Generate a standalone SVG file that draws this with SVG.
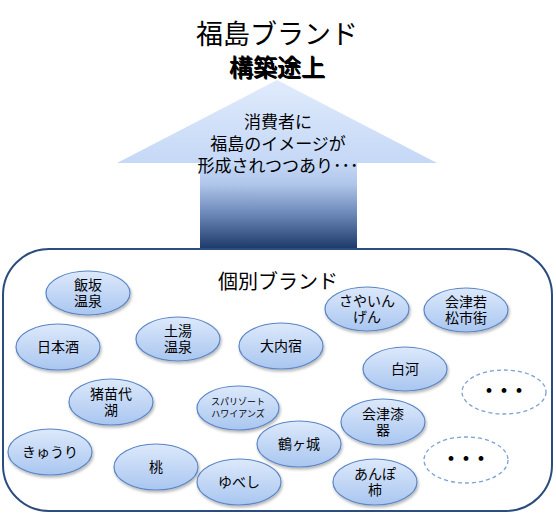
<svg xmlns="http://www.w3.org/2000/svg" width="556" height="514" viewBox="0 0 556 514">
<defs>
<linearGradient id="arrowGrad" x1="0" y1="80" x2="0" y2="248" gradientUnits="userSpaceOnUse">
<stop offset="0" stop-color="#e0ebfc"/>
<stop offset="0.49" stop-color="#c5d8f6"/>
<stop offset="0.62" stop-color="#b0c6ea"/>
<stop offset="0.8" stop-color="#6a87b8"/>
<stop offset="1" stop-color="#1f3b6b"/>
</linearGradient>
<linearGradient id="ellGrad" x1="0" y1="0" x2="0" y2="1">
<stop offset="0" stop-color="#dde9fb"/>
<stop offset="1" stop-color="#a9c6f0"/>
</linearGradient>
<filter id="shadow" x="-20%" y="-20%" width="150%" height="160%">
<feGaussianBlur in="SourceAlpha" stdDeviation="1.5"/>
<feOffset dx="1" dy="2" result="b"/>
<feComponentTransfer><feFuncA type="linear" slope="0.3"/></feComponentTransfer>
<feMerge><feMergeNode/><feMergeNode in="SourceGraphic"/></feMerge>
</filter>
<style>
.ell{fill:url(#ellGrad);stroke:#5a86c6;stroke-width:1.2;filter:url(#shadow)}
.dash{fill:#ffffff;stroke:#7ea0d2;stroke-width:1.3;stroke-dasharray:4 3}
.t{font-family:"Liberation Sans","Noto Sans CJK JP",sans-serif;font-size:14px;fill:#000;text-anchor:middle}
.s{font-size:9px}
.dots{font-family:"Liberation Sans","Noto Sans CJK JP",sans-serif;font-size:17px;font-weight:900;fill:#000;text-anchor:middle;letter-spacing:-2px}
.big{font-family:"Liberation Sans","Noto Sans CJK JP",sans-serif;fill:#000;text-anchor:middle}
</style>
</defs>
<rect x="0" y="0" width="556" height="514" fill="#ffffff"/>

<g id="title">
<text class="big" x="277" y="44" font-size="27">福島ブランド</text>
<text class="big" x="278" y="77" font-size="24" font-weight="500" fill="#c07020">構築途上</text>
<text class="big" x="277" y="76" font-size="24" font-weight="500">構築途上</text>
</g>

<g id="arrow">
<path d="M277,80 L437,163 L357,163 L357,249 L200,249 L200,163 L117,163 Z" fill="url(#arrowGrad)"/>
<text class="big" font-size="17" x="278" y="128">消費者に</text>
<text class="big" font-size="17" x="278" y="150">福島のイメージが</text>
<text class="big" font-size="17" x="278" y="172">形成されつつあり･･･</text>
</g>

<g id="container">
<rect x="3" y="249" width="549" height="262" rx="46" ry="46" fill="#ffffff" stroke="#2b4c7c" stroke-width="2"/>
<text class="big" x="278" y="289" font-size="20">個別ブランド</text>
</g>

<g id="connectors"></g>

<g id="iizaka"><ellipse class="ell" cx="88" cy="293" rx="42" ry="22"/><text class="t" x="88" y="290">飯坂</text><text class="t" x="88" y="306">温泉</text></g>
<g id="nihonshu"><ellipse class="ell" cx="58" cy="347" rx="42" ry="23"/><text class="t" x="58" y="352">日本酒</text></g>
<g id="tsuchiyu"><ellipse class="ell" cx="178" cy="339" rx="42" ry="22"/><text class="t" x="178" y="336">土湯</text><text class="t" x="178" y="352">温泉</text></g>
<g id="ouchijuku"><ellipse class="ell" cx="281" cy="346" rx="42" ry="23"/><text class="t" x="281" y="351">大内宿</text></g>
<g id="sayaingen"><ellipse class="ell" cx="367" cy="309" rx="42" ry="22"/><text class="t" x="367" y="306">さやいん</text><text class="t" x="367" y="322">げん</text></g>
<g id="aizuwakamatsu"><ellipse class="ell" cx="466" cy="310" rx="42" ry="22"/><text class="t" x="466" y="307">会津若</text><text class="t" x="466" y="323">松市街</text></g>
<g id="shirakawa"><ellipse class="ell" cx="405" cy="369" rx="42" ry="22"/><text class="t" x="405" y="374">白河</text></g>
<g id="inawashiro"><ellipse class="ell" cx="111" cy="402" rx="42" ry="23"/><text class="t" x="111" y="399">猪苗代</text><text class="t" x="111" y="415">湖</text></g>
<g id="spa"><ellipse class="ell" cx="238" cy="408" rx="41" ry="22"/><text class="t s" x="238" y="405">スパリゾート</text><text class="t s" x="238" y="417">ハワイアンズ</text></g>
<g id="kyuri"><ellipse class="ell" cx="50" cy="452" rx="42" ry="23"/><text class="t" x="50" y="457">きゅうり</text></g>
<g id="momo"><ellipse class="ell" cx="156" cy="467" rx="42" ry="23"/><text class="t" x="156" y="472">桃</text></g>
<g id="yubeshi"><ellipse class="ell" cx="239" cy="482" rx="42" ry="23"/><text class="t" x="239" y="487">ゆべし</text></g>
<g id="tsurugajo"><ellipse class="ell" cx="299" cy="444" rx="42" ry="23"/><text class="t" x="299" y="449">鶴ヶ城</text></g>
<g id="aizushikki"><ellipse class="ell" cx="383" cy="422" rx="42" ry="23"/><text class="t" x="383" y="419">会津漆</text><text class="t" x="383" y="435">器</text></g>
<g id="anpogaki"><ellipse class="ell" cx="375" cy="482" rx="42" ry="23"/><text class="t" x="375" y="479">あんぽ</text><text class="t" x="375" y="495">柿</text></g>
<g id="more1"><ellipse class="dash" cx="504" cy="392" rx="42" ry="22"/><text class="dots" x="503" y="397">・・・</text></g>
<g id="more2"><ellipse class="dash" cx="466" cy="460" rx="42" ry="23"/><text class="dots" x="465" y="465">・・・</text></g>
</svg>
